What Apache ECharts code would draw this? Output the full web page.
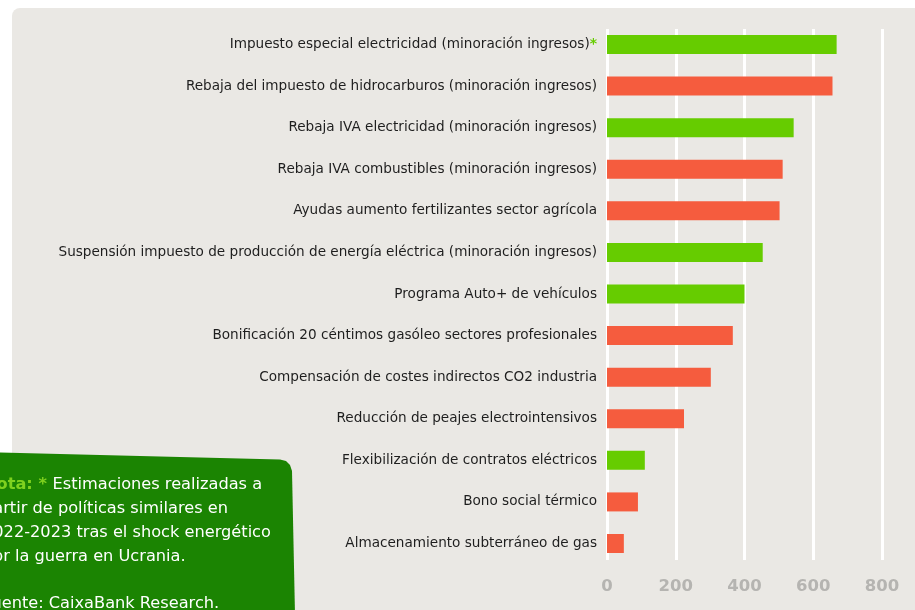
<!DOCTYPE html>
<html>
<head>
<meta charset="utf-8">
<script src="https://cdn.jsdelivr.net/npm/echarts@6/dist/echarts.min.js"></script>
<style>
html,body{margin:0;padding:0;background:#fff;}
#chart{width:915px;height:610px;}
</style>
</head>
<body>
<div id="chart"></div>
<script>
// medidas (millones de euros), de arriba a abajo
var categories = [
  'Impuesto especial electricidad (minoración ingresos)',
  'Rebaja del impuesto de hidrocarburos (minoración ingresos)',
  'Rebaja IVA electricidad (minoración ingresos)',
  'Rebaja IVA combustibles (minoración ingresos)',
  'Ayudas aumento fertilizantes sector agrícola',
  'Suspensión impuesto de producción de energía eléctrica (minoración ingresos)',
  'Programa Auto+ de vehículos',
  'Bonificación 20 céntimos gasóleo sectores profesionales',
  'Compensación de costes indirectos CO2 industria',
  'Reducción de peajes electrointensivos',
  'Flexibilización de contratos eléctricos',
  'Bono social térmico',
  'Almacenamiento subterráneo de gas'
];
var values = [668, 656, 543, 511, 502, 453, 400, 366, 302, 224, 110, 90, 49];
// 'g' = verde, 'r' = rojo
var kinds = ['g','r','g','r','r','g','g','r','r','r','g','r','r'];
var starred = [true,false,false,false,false,false,false,false,false,false,false,false,false];
var xTicks = [0, 200, 400, 600, 800];

var noteLines = [
  [{t:'Nota: * ', s:'hl'}, {t:'Estimaciones realizadas a', s:'w'}],
  [{t:'partir de políticas similares en', s:'w'}],
  [{t:'2022-2023 tras el shock energético', s:'w'}],
  [{t:'por la guerra en Ucrania.', s:'w'}],
  [],
  [{t:'Fuente: CaixaBank Research.', s:'w'}]
];

var GREEN = '#66cc00', RED = '#f55c3e';

var chart = echarts.init(document.getElementById('chart'), null, {renderer:'canvas'});

var barData = values.map(function(v,i){
  return {value:v, itemStyle:{color: kinds[i]=='g' ? GREEN : RED}};
});

var noteText = noteLines.map(function(l){
  return l.map(function(p){ return '{'+p.s+'|'+p.t+'}'; }).join('');
}).join('\n');

var option = {
  animation:false,
  backgroundColor:'#ffffff',
  graphic:[
    {type:'rect', z:-10, shape:{x:12,y:8,width:1000,height:700,r:8}, style:{fill:'#eae8e4'}},
    {type:'polygon', z:100, shape:{points:[[-5,452.5],[280,459.5],[286,461],[290,465],[292,471],[295,615],[-5,615]]},
      style:{fill:'#1b8402'}},
    {type:'text', z:101, left:-17, top:473,
      style:{text:noteText, lineHeight:23.8,
        rich:{
          hl:{fill:'#7fd11f', fontSize:16.2, fontWeight:'bold', fontFamily:'DejaVu Sans', lineHeight:23.8},
          w:{fill:'#ffffff', fontSize:16.2, fontWeight:'normal', fontFamily:'DejaVu Sans', lineHeight:23.8}
        }}}
  ],
  grid:[
    {left:607, width:275, top:23.7, height:540.6, containLabel:false},
    {left:607, width:275, top:29, height:531, containLabel:false}
  ],
  xAxis:[
    {gridIndex:0, type:'value', min:0, max:800, interval:200, show:false},
    {gridIndex:1, type:'value', min:0, max:800, interval:200,
      axisLine:{show:false}, axisTick:{show:false},
      splitLine:{show:true, lineStyle:{color:'#ffffff', width:3}},
      axisLabel:{margin:18, color:'#b5b4b1', fontSize:16.5, fontWeight:'bold', fontFamily:'DejaVu Sans',
        formatter:function(v){ return xTicks.indexOf(v) >= 0 ? String(v) : ''; }}}
  ],
  yAxis:[
    {gridIndex:0, type:'category', inverse:true, data:categories,
      axisLine:{show:false}, axisTick:{show:false}, splitLine:{show:false},
      axisLabel:{margin:10, color:'#1e1e1e', fontSize:13.6, fontFamily:'DejaVu Sans',
        formatter:function(v,i){ return starred[i] ? v+'{s|*}' : v; },
        rich:{s:{color:GREEN, fontSize:14, fontWeight:'bold', fontFamily:'DejaVu Sans', verticalAlign:'top'}}}},
    {gridIndex:1, type:'value', show:false}
  ],
  series:[
    {type:'bar', xAxisIndex:0, yAxisIndex:0, data:barData, barWidth:19, z:5},
    {type:'scatter', xAxisIndex:1, yAxisIndex:1, data:[], silent:true}
  ]
};
chart.setOption(option);
</script>
</body>
</html>
